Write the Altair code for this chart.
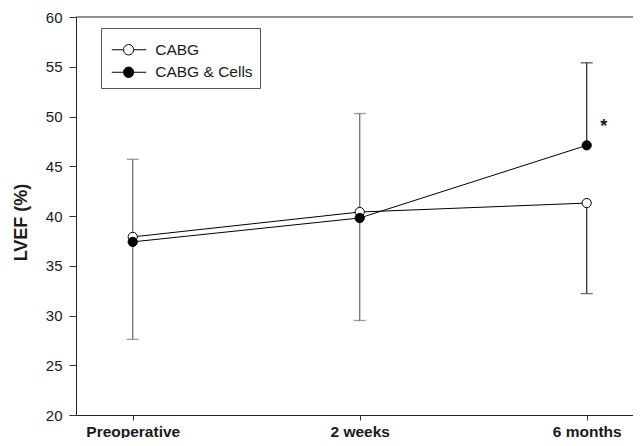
import json
import altair as alt
import pandas as pd

# ---- data ----
times = ["Preoperative", "2 weeks", "6 months"]
series = ["CABG", "CABG & Cells"]
cabg_mean = [37.9, 40.4, 41.3]
cells_mean = [37.4, 39.8, 47.1]
cabg_sd = [10.3, 10.9, 9.1]   # error bar drawn downward
cells_sd = [8.3, 10.5, 8.3]   # error bar drawn upward
y_ticks = [20, 25, 30, 35, 40, 45, 50, 55, 60]
y_top = [60]
star_time = [2]               # index of "6 months"
star_value = [49.3]
star_label = ["*"]

rows = []
for i, (t, m, s) in enumerate(zip(times, cabg_mean, cabg_sd)):
    rows.append({"time": t, "idx": i, "series": series[0], "mean": m, "sd": s, "dir": -1})
for i, (t, m, s) in enumerate(zip(times, cells_mean, cells_sd)):
    rows.append({"time": t, "idx": i, "series": series[1], "mean": m, "sd": s, "dir": 1})
df = pd.DataFrame(rows)
star_df = pd.DataFrame({"idx": star_time, "value": star_value, "label": star_label})
top_df = pd.DataFrame({"v": y_top})

FONT = "Liberation Sans"

x_scale = alt.Scale(domain=[-0.25, 2.204], nice=False, zero=False)
x_axis = alt.Axis(
    title=None, values=list(range(len(times))),
    labelExpr=f"{json.dumps(times)}[datum.value]",
    labelAngle=0, labelFontSize=15.5, labelFontWeight="bold",
    labelFont=FONT, labelColor="#1a1a1a", tickSize=5, labelPadding=4,
    domainColor="#222", tickColor="#333", grid=False, labelFlush=False,
    labelOverlap=False,
)
x_enc = alt.X("idx:Q", scale=x_scale, axis=x_axis)
x_plain = alt.X("idx:Q", scale=x_scale)

y_scale = alt.Scale(domain=[20, 60], nice=False, zero=False)
y_axis = alt.Axis(
    values=y_ticks, tickSize=7, labelPadding=7, labelFontSize=15, labelFont=FONT,
    labelColor="#1a1a1a", title="LVEF (%)", titleFontSize=18, titleFontWeight="bold",
    titleFont=FONT, titleColor="#1a1a1a", titlePadding=14.5, titleY=205, grid=False,
    domainColor="#222", tickColor="#333",
)

base = alt.Chart(df).transform_calculate(end="datum.mean + datum.dir * datum.sd")

bar_color = (
    alt.when(alt.datum.idx == 2)
    .then(alt.value("#333333"))
    .otherwise(alt.value("#707070"))
)

err = base.mark_rule(strokeWidth=1.3).encode(
    x=x_enc, y=alt.Y("mean:Q", scale=y_scale, axis=y_axis), y2="end:Q", color=bar_color
)
caps = base.mark_tick(size=12, thickness=1.3, orient="horizontal").encode(
    x=x_plain, y=alt.Y("end:Q", scale=y_scale), color=bar_color
)
lines = base.mark_line(color="black", strokeWidth=1).encode(
    x=x_plain, y=alt.Y("mean:Q", scale=y_scale), detail="series:N", order="idx:Q"
)
# line-with-circle legend symbol (unit = 7.5px for symbolSize 225)
legend_path = (
    "M-0.6,0H0.98M2.313,0H4.0"
    "M2.313,0A0.667,0.667,0,1,1,0.98,0A0.667,0.667,0,1,1,2.313,0Z"
)
points = base.mark_circle(size=85, stroke="black", strokeWidth=1, opacity=1).encode(
    x=x_plain,
    y=alt.Y("mean:Q", scale=y_scale),
    fill=alt.Fill(
        "series:N",
        scale=alt.Scale(domain=series, range=["white", "black"]),
        legend=alt.Legend(
            title=" ", titleFontSize=2, titlePadding=4.5,
            orient="none", legendX=25, legendY=11, padding=7.25,
            strokeColor="#555", fillColor="white", labelFontSize=15.5,
            labelFont=FONT, labelColor="#1a1a1a", symbolType=legend_path,
            symbolSize=225, symbolStrokeWidth=1, symbolStrokeColor="black",
            symbolOpacity=1, labelOffset=31, rowPadding=5.5,
        ),
    ),
)
top = alt.Chart(top_df).mark_rule(color="#222", strokeWidth=1).encode(
    y=alt.Y("v:Q", scale=y_scale)
)
star = alt.Chart(star_df).mark_text(
    fontSize=18, fontWeight="bold", font=FONT, dx=17, dy=4, color="#1a1a1a"
).encode(x=x_plain, y=alt.Y("value:Q", scale=y_scale), text="label:N")

chart = (
    alt.layer(top, err, caps, lines, points, star)
    .properties(
        width=557, height=398,
        padding={"left": 68, "top": 9, "right": 0, "bottom": 23},
        autosize=alt.AutoSizeParams(type="none"),
    )
    .configure_view(stroke=None)
)

chart.save("out.html", embed_options={"renderer": "svg", "actions": False})
